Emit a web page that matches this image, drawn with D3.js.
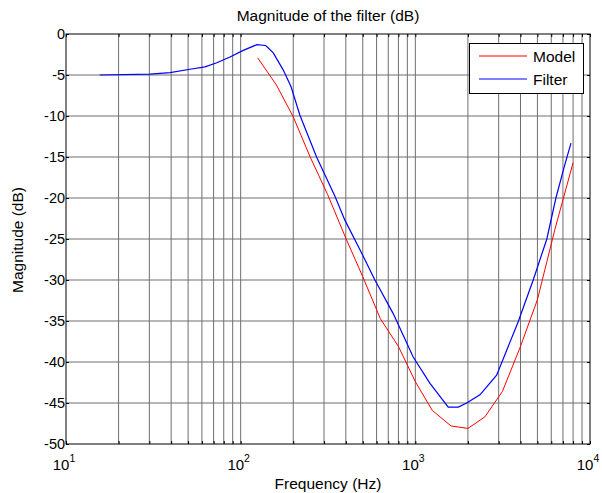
<!DOCTYPE html>
<html><head><meta charset="utf-8">
<script src="https://cdn.jsdelivr.net/npm/d3@7/dist/d3.min.js"></script>
<style>body{margin:0;background:#fff}svg{display:block}text{font-family:"Liberation Sans",Arial,sans-serif}</style>
</head><body><svg id="c" width="602" height="493"></svg>
<script>
const title = "Magnitude of the filter (dB)";
const xLabel = "Frequency (Hz)";
const yLabel = "Magnitude (dB)";
const seriesNames = ["Model", "Filter"];
const seriesColors = ["#ff0000", "#0000ff"];
const xTickExps = [1, 2, 3, 4];
const yTicks = [0, -5, -10, -15, -20, -25, -30, -35, -40, -45, -50];

const modelFreq = [125, 160, 200, 250, 315, 400, 500, 630, 800, 1000, 1250, 1600, 2000, 2500, 3150, 4000, 5000, 6300, 8000];
const modelDb   = [-2.9, -6.2, -10.1, -15.0, -19.6, -24.9, -29.6, -34.7, -38.1, -42.4, -45.9, -47.8, -48.1, -46.7, -43.6, -38.1, -32.4, -23.8, -15.7];

const filterFreq = [15.6, 30.3, 39.4, 51.3, 62.5, 73, 86.9, 103.5, 123.6, 139.1, 153.7, 175.4, 194.1, 218.4, 272, 346.5, 395, 482, 587, 747, 972, 1213, 1543, 1762, 1967, 2344, 2920, 3881, 4730, 5660, 6380, 7100, 7780];
const filterDb   = [-5.0, -4.9, -4.7, -4.3, -4.0, -3.5, -2.8, -2.0, -1.3, -1.4, -2.3, -4.4, -6.4, -9.9, -15.0, -19.8, -22.7, -26.3, -30.0, -34.1, -39.4, -42.6, -45.5, -45.5, -45.0, -44.0, -41.6, -35.1, -30.0, -25.0, -20.0, -16.3, -13.3];

const svg = d3.select("#c");
const L = 66, R = 590, T = 34, B = 444;
const x = d3.scaleLog().domain([10, 10000]).range([L, R]);
const y = d3.scaleLinear().domain([-50, 0]).range([B, T]);

// grid
const minor = [];
for (let e = 1; e < 4; e++) for (let k = 1; k <= 9; k++) minor.push(k * Math.pow(10, e));
minor.push(10000);
const g = svg.append("g");
g.selectAll("line.vx").data(minor.filter(v => v > 10 && v < 10000)).join("line")
  .attr("x1", d => x(d)).attr("x2", d => x(d)).attr("y1", T).attr("y2", B)
  .attr("stroke", "#6e6e6e").attr("stroke-width", 1);
g.selectAll("line.hy").data(yTicks.filter(v => v > -50 && v < 0)).join("line")
  .attr("y1", d => y(d)).attr("y2", d => y(d)).attr("x1", L).attr("x2", R)
  .attr("stroke", "#6e6e6e").attr("stroke-width", 1);

// lines
const line = d3.line().x(d => x(d[0])).y(d => y(d[1]));
svg.append("path").datum(modelFreq.map((f, i) => [f, modelDb[i]]))
  .attr("d", line).attr("fill", "none").attr("stroke", seriesColors[0]).attr("stroke-width", 1);
svg.append("path").datum(filterFreq.map((f, i) => [f, filterDb[i]]))
  .attr("d", line).attr("fill", "none").attr("stroke", seriesColors[1]).attr("stroke-width", 1.2);

// axes (inward ticks)
const xb = svg.append("g").attr("transform", `translate(0,${B})`)
  .call(d3.axisBottom(x).tickValues(minor).tickSizeInner(-3).tickSizeOuter(0).tickFormat(""));
const xt = svg.append("g").attr("transform", `translate(0,${T})`)
  .call(d3.axisTop(x).tickValues(minor).tickSizeInner(-3).tickSizeOuter(0).tickFormat(""));
const yl = svg.append("g").attr("transform", `translate(${L},0)`)
  .call(d3.axisLeft(y).tickValues(yTicks).tickSizeInner(-3).tickSizeOuter(0).tickPadding(6).tickFormat(d => d));
const yr = svg.append("g").attr("transform", `translate(${R},0)`)
  .call(d3.axisRight(y).tickValues(yTicks).tickSizeInner(-3).tickSizeOuter(0).tickFormat(""));
[xb, xt, yl, yr].forEach(a => { a.select(".domain").remove(); a.selectAll("line").attr("stroke", "#000"); });
yl.selectAll("text").attr("font-size", 14.5).attr("fill", "#000").attr("font-family", "Liberation Sans, Arial, sans-serif").attr("dx", "0.35em");

svg.append("rect").attr("x", L).attr("y", T).attr("width", R - L).attr("height", B - T)
  .attr("fill", "none").attr("stroke", "#000").attr("stroke-width", 1);

// x tick labels 10^n
xTickExps.forEach(e => {
  const t = svg.append("text").attr("x", x(Math.pow(10, e)) - 2).attr("y", 470)
    .attr("text-anchor", "middle").attr("font-size", 15);
  t.append("tspan").text("10");
  t.append("tspan").attr("font-size", 10.5).attr("dy", -8).text(e);
});

svg.append("text").attr("x", 328).attr("y", 21).attr("text-anchor", "middle").attr("font-size", 15.5).text(title);
svg.append("text").attr("x", 328).attr("y", 489).attr("text-anchor", "middle").attr("font-size", 15.5).text(xLabel);
svg.append("text").attr("transform", "translate(23,240) rotate(-90)").attr("text-anchor", "middle").attr("font-size", 15.5).text(yLabel);

// legend
const lg = svg.append("g");
lg.append("rect").attr("x", 469.5).attr("y", 43.5).attr("width", 114).attr("height", 50)
  .attr("fill", "#fff").attr("stroke", "#000");
seriesNames.forEach((n, i) => {
  const yy = 56 + i * 23;
  lg.append("line").attr("x1", 479).attr("x2", 527).attr("y1", yy).attr("y2", yy).attr("stroke", seriesColors[i]);
  lg.append("text").attr("x", 533).attr("y", yy + 5.5).attr("font-size", 15.5).text(n);
});
</script></body></html>
